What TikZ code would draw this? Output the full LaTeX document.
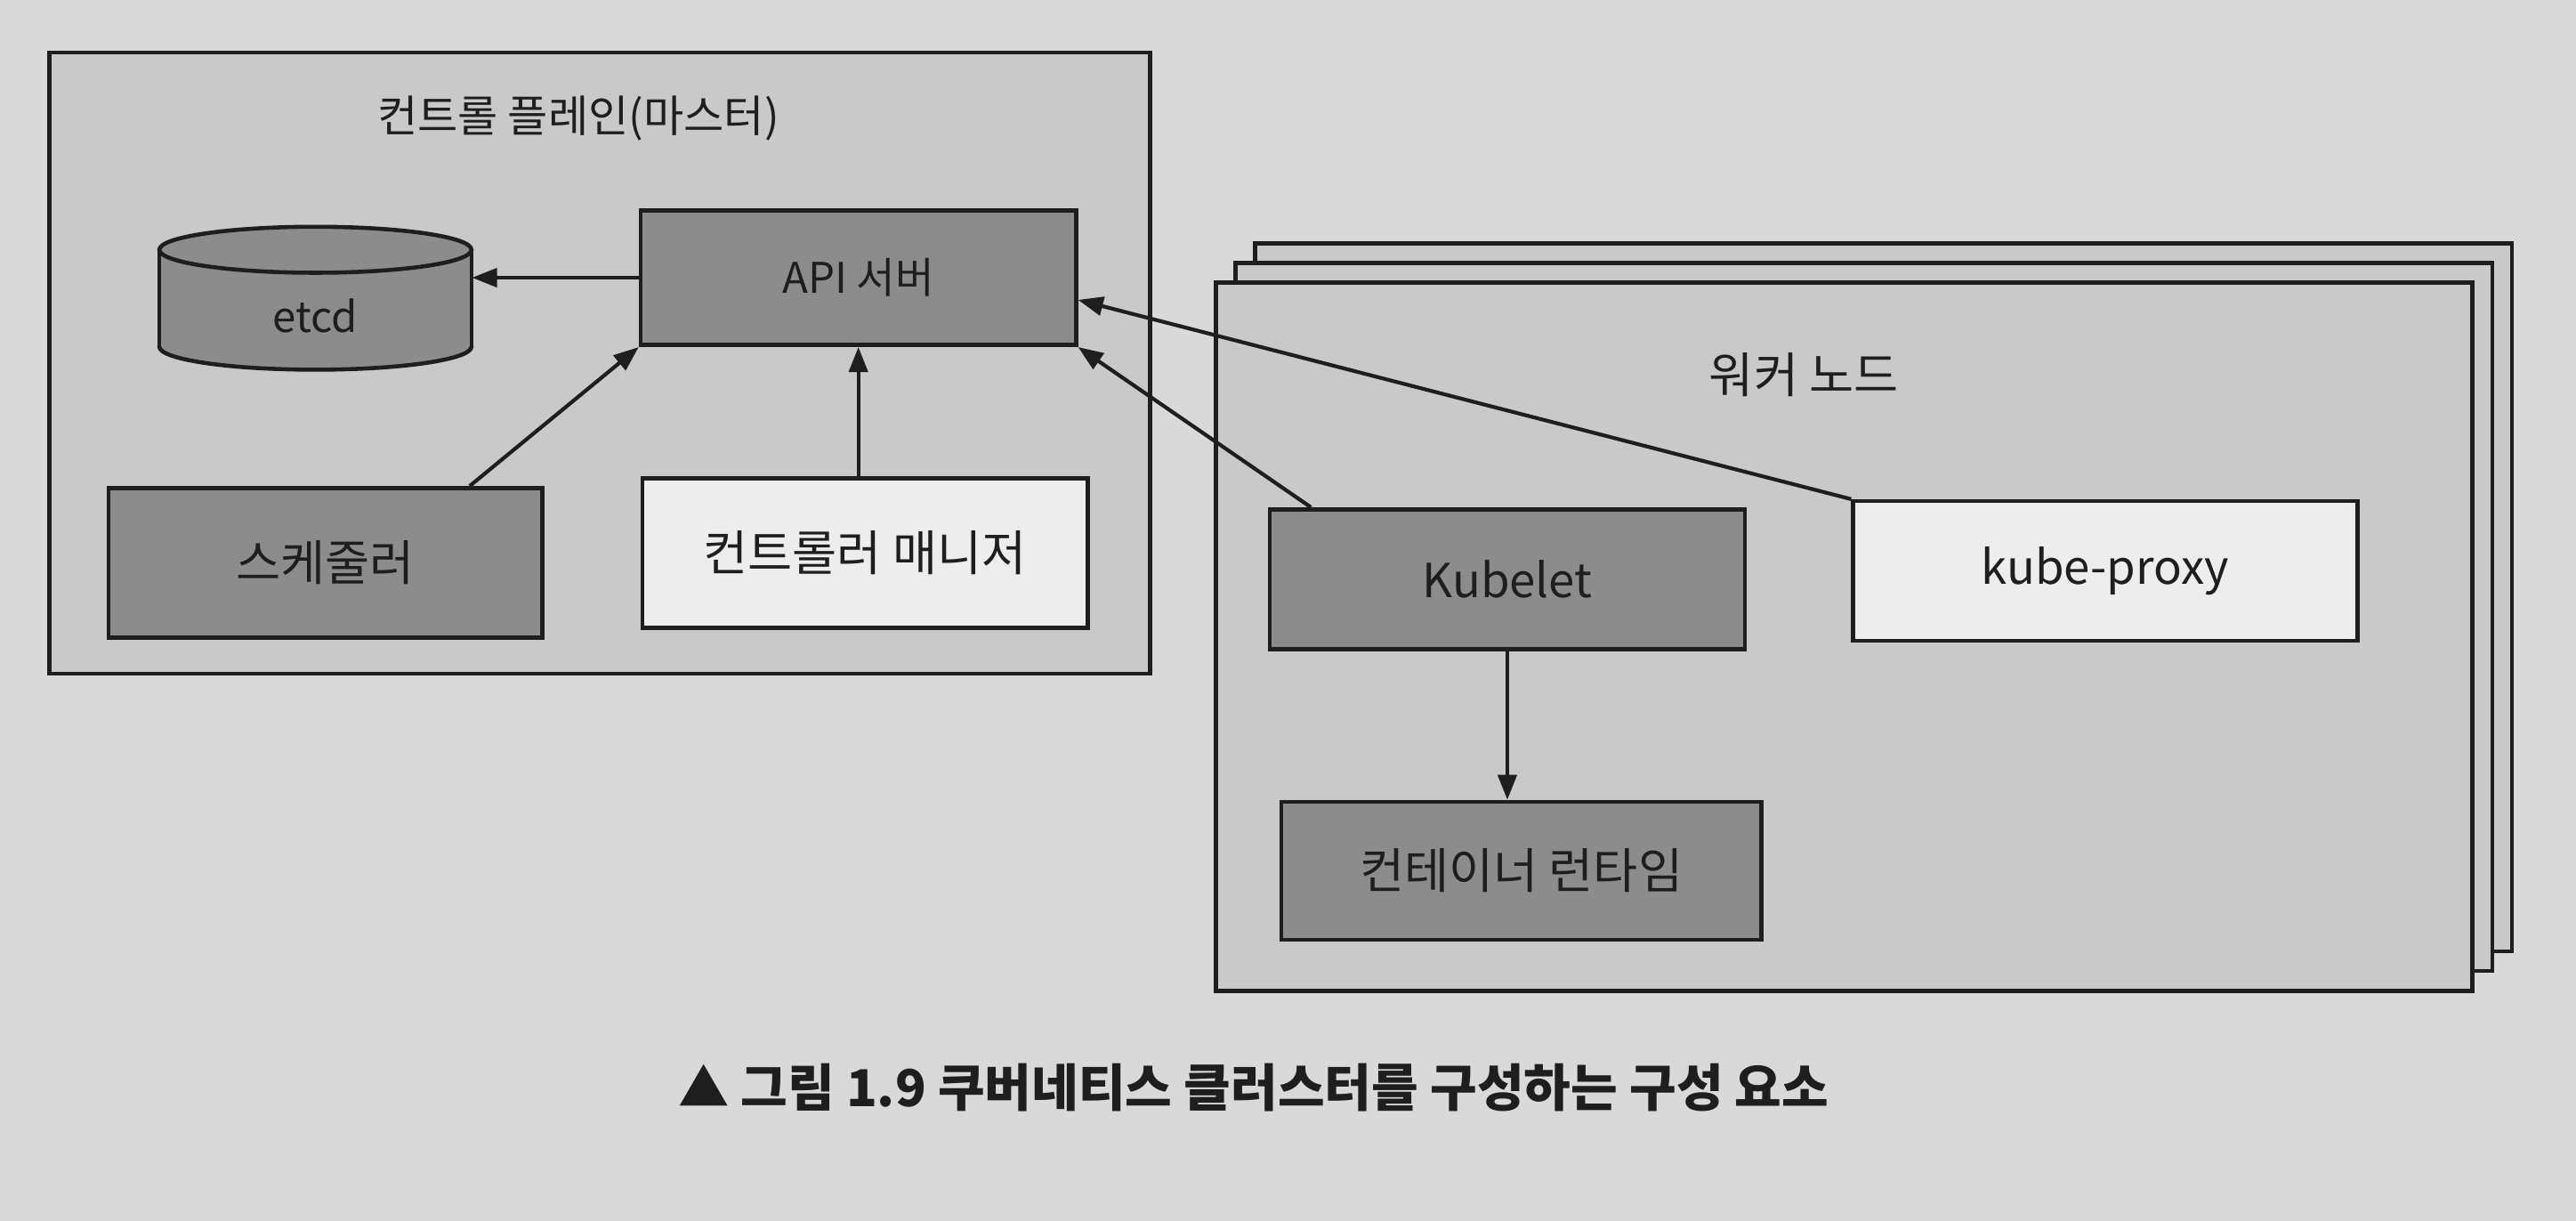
\documentclass[tikz,border=0pt]{standalone}
\usepackage{fontspec}
\setmainfont{Noto Sans CJK KR}
\usetikzlibrary{fit,arrows.meta,calc}
\definecolor{page}{HTML}{D9D9D9}
\definecolor{cont}{HTML}{C9C9C9}
\definecolor{darkf}{HTML}{8C8C8C}
\definecolor{lightf}{HTML}{EDEDED}
\definecolor{ink}{HTML}{1E1E1E}
\begin{document}
\begin{tikzpicture}[x=0.01846cm,y=-0.01846cm,
  every node/.style={text=ink},
  frame/.style={draw=ink, line width=1.3pt},
  container/.style={frame, fill=cont, inner sep=0pt},
  darkbox/.style={frame, fill=darkf, inner sep=0pt},
  lightbox/.style={frame, fill=lightf, inner sep=0pt},
  conn/.style={draw=ink, line width=1.2pt, -{Triangle[length=8pt,width=6pt]}},
  ko/.style={font=\fontsize{15.5}{18}\selectfont},
  la/.style={font=\fontsize{13.5}{16}\selectfont},
  lb/.style={font=\fontsize{15}{18}\selectfont},
  title/.style={font=\fontsize{14}{17}\selectfont},
  caption/.style={font=\fontsize{16.3}{19}\selectfont\bfseries}
]
\useasboundingbox (0,0) rectangle (1568,743);
\fill[page] (0,0) rectangle (1568,743);

% control plane
\node[container, fit={(30,32) (700,410)}] (cp) {};
\node[title] (cptitle) at (352,72) {컨트롤 플레인(마스터)};

% etcd cylinder
\fill[darkf] (97,152) rectangle (287,211);
\fill[darkf] (192,211) ellipse [x radius=95, y radius=14];
\draw[ink, line width=1.3pt] (97,152) -- (97,211) (287,152) -- (287,211);
\begin{scope}
  \clip (85,211) rectangle (300,235);
  \draw[ink, line width=1.3pt] (192,211) ellipse [x radius=95, y radius=14];
\end{scope}
\draw[ink, line width=1.3pt, fill=darkf] (192,152) ellipse [x radius=95, y radius=14];
\node[inner sep=0pt, fit={(97,166) (287,225)}] (etcd) {};
\node[la] at (192,192) (etcdlabel) {etcd};

\node[darkbox, fit={(390,128) (655,210)}] (api) {};
\node[la] at (api.center) (apilabel) {API 서버};
\node[darkbox, fit={(66,297) (330,388)}] (sched) {};
\node[ko] at (sched.center) (schedlabel) {스케줄러};
\node[lightbox, fit={(391,291) (662,382)}] (ctrl) {};
\node[ko] at (ctrl.center) (ctrllabel) {컨트롤러 매니저};

% worker node stack
\draw[frame, fill=cont] (764,148) rectangle (1529,579);
\draw[frame, fill=cont] (752,160) rectangle (1517,591);
\node[container, fit={(740,172) (1505,603)}] (worker) {};
\node[ko] (wtitle) at (1098,228) {워커 노드};

\node[darkbox, fit={(773,310) (1062,395)}] (kubelet) {};
\node[lb] at (kubelet.center) (kubeletlabel) {Kubelet};
\node[lightbox, fit={(1128,305) (1435,390)}] (proxy) {};
\node[lb] at (proxy.center) (proxylabel) {kube-proxy};
\node[darkbox, fit={(780,488) (1072,572)}] (runtime) {};
\node[ko] at (runtime.center) (runtimelabel) {컨테이너 런타임};

% connectors
\draw[conn] (api.west) -- (api.west -| etcd.east);
\draw[conn] ($(sched.north west)!0.83!(sched.north east)$) -- (api.south west);
\draw[conn] (ctrl.north -| api.south) -- (api.south);
\draw[conn] ($(kubelet.north west)!0.09!(kubelet.north east)$) -- (api.south east);
\draw[conn] (proxy.north west) -- ($(api.north east)!0.66!(api.south east)$);
\draw[conn] (kubelet.south) -- (kubelet.south |- runtime.north);

% caption
\node[caption] (cap) at (763,662) {▲ 그림 1.9 쿠버네티스 클러스터를 구성하는 구성 요소};
\end{tikzpicture}
\end{document}
